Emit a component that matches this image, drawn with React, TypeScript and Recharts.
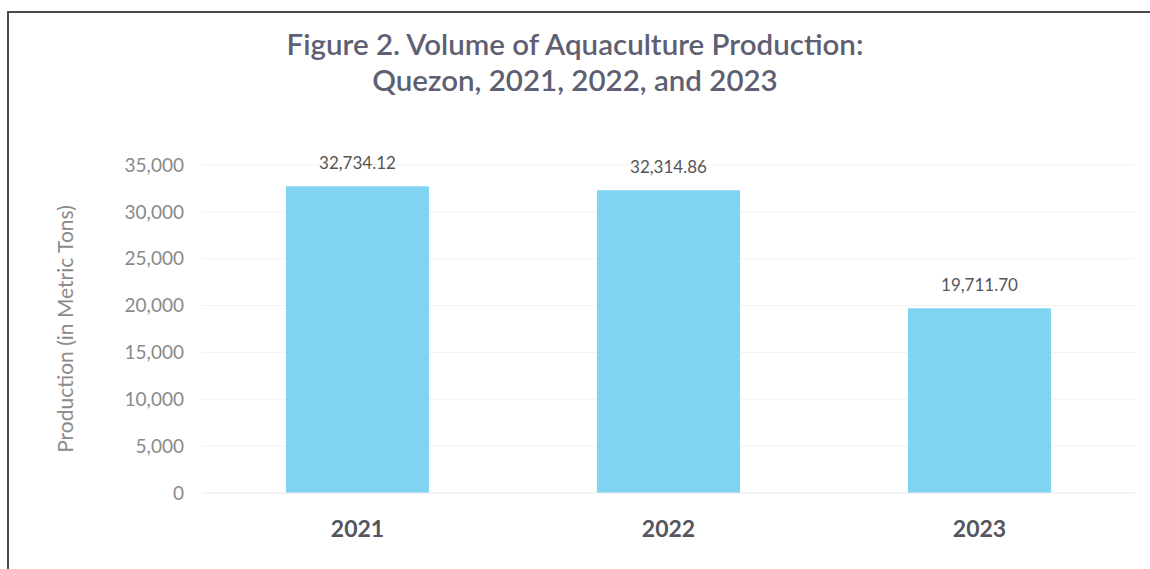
import React from "react";
import { BarChart, Bar, XAxis, YAxis, CartesianGrid, LabelList } from "recharts";

const years = ["2021", "2022", "2023"];
const production = [32734.12, 32314.86, 19711.7];
const yTicks = [0, 5000, 10000, 15000, 20000, 25000, 30000, 35000];

const data = years.map((y, i) => ({ year: y, value: production[i] }));

const fmtTick = (v: number) => v.toLocaleString("en-US");
const fmtVal = (v: number) =>
  v.toLocaleString("en-US", { minimumFractionDigits: 2, maximumFractionDigits: 2 });

const FONT = "Lato, 'Open Sans', sans-serif";

export default function App() {
  return (
    <div style={{ position: "absolute", left: 0, top: 0, width: 1150, height: 569, background: "#fff", overflow: "hidden" }}>
      <div style={{ position: "absolute", left: 7, top: 11, width: 1150, height: 569, borderTop: "2px solid #4a4a4a", borderLeft: "2px solid #4a4a4a" }} />
      <div style={{ position: "absolute", left: 0, top: 26, width: 1150, textAlign: "center", fontFamily: FONT, fontWeight: 600, fontSize: 29.5, lineHeight: "36px", color: "#5e5f72" }}>
        Figure 2. Volume of Aquaculture Production:
        <br />
        Quezon, 2021, 2022, and 2023
      </div>
      <div style={{ position: "absolute", left: 0, top: 0 }}>
        <BarChart
          width={1150}
          height={569}
          data={data}
          margin={{ top: 165, right: 15, bottom: 46, left: 0 }}
          barCategoryGap="27%"
        >
          <CartesianGrid vertical={false} stroke="#f2f2f2" />
          <XAxis
            dataKey="year"
            axisLine={{ stroke: "#eeeeee" }}
            tickLine={false}
            tickMargin={22}
            tick={{ fill: "#555560", fontSize: 23, fontWeight: 700, fontFamily: FONT }}
          />
          <YAxis
            width={202}
            domain={[0, 35000]}
            ticks={yTicks}
            interval={0}
            axisLine={false}
            tickLine={false}
            tickMargin={12}
            tickFormatter={fmtTick}
            tick={{ fill: "#8a8a8a", fontSize: 19, fontFamily: FONT }}
            label={{
              value: "Production (in Metric Tons)",
              angle: -90,
              position: "insideLeft",
              dx: 61,
              fill: "#8a8a8a",
              fontSize: 21,
              fontFamily: FONT,
              style: { textAnchor: "middle" },
            }}
          />
          <Bar dataKey="value" fill="#80d4f2" isAnimationActive={false}>
            <LabelList
              dataKey="value"
              position="top"
              offset={17}
              formatter={(v: any) => fmtVal(Number(v))}
              style={{ fill: "#555555", fontSize: 17, fontFamily: FONT }}
            />
          </Bar>
        </BarChart>
      </div>
    </div>
  );
}
